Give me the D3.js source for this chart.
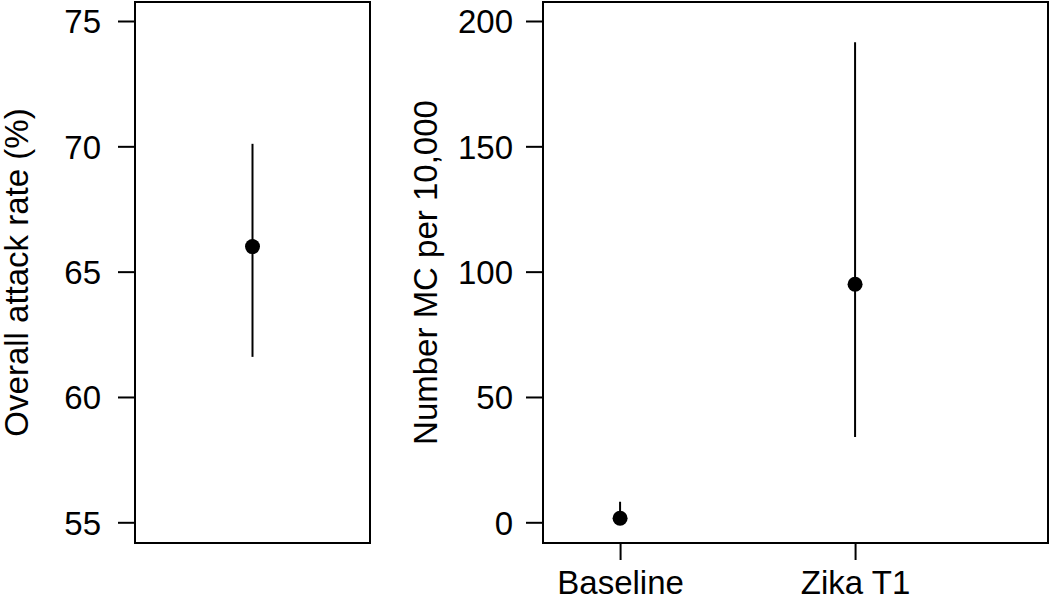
<!DOCTYPE html>
<html>
<head>
<meta charset="utf-8">
<script src="https://cdn.jsdelivr.net/npm/d3@7"></script>
<style>
  html, body { margin: 0; padding: 0; background: #fff; }
  svg { display: block; }
  text { font-family: "Liberation Sans", Arial, Helvetica, sans-serif; fill: #000; }
</style>
</head>
<body>
<svg id="chart" width="1050" height="598"></svg>
<script>
// ---- data ----
const attackTicks = [55, 60, 65, 70, 75];
const attackMean = [66.0];
const attackLow = [61.6];
const attackHigh = [70.1];

const mcCategories = ["Baseline", "Zika T1"];
const mcMean = [1.6, 95];
const mcLow = [0, 34];
const mcHigh = [8.2, 191.5];
const mcTicks = [0, 50, 100, 150, 200];

const leftTitle = "Overall attack rate (%)";
const rightTitle = "Number MC per 10,000";

// ---- layout ----
const svg = d3.select("#chart");
const boxTop = 2, boxBottom = 543;
const fontSize = 33;

function panel(cfg) {
  const g = svg.append("g");
  const y = d3.scaleLinear().domain(cfg.yDomain).range([522.3, 21]);
  const x = d3.scaleLinear().domain(cfg.xDomain).range([cfg.left, cfg.right]);

  // y axis
  const yAxis = d3.axisLeft(y).tickValues(cfg.ticks).tickSize(17).tickPadding(cfg.tickPad);
  const ya = g.append("g").attr("transform", `translate(${cfg.left},0)`).call(yAxis);
  ya.select(".domain").remove();
  ya.selectAll(".tick line").attr("stroke", "#000").attr("stroke-width", 2);
  ya.selectAll(".tick text").style("font-size", fontSize + "px")
    .attr("font-family", null).attr("dy", "0.36em");

  // x axis
  if (cfg.cats) {
    const xAxis = d3.axisBottom(x).tickValues(cfg.cats.map((d, i) => i))
      .tickFormat(i => cfg.cats[i]).tickSize(17).tickPadding(11);
    const xa = g.append("g").attr("transform", `translate(0,${boxBottom})`).call(xAxis);
    xa.select(".domain").remove();
    xa.selectAll(".tick line").attr("stroke", "#000").attr("stroke-width", 2);
    xa.selectAll(".tick text").style("font-size", fontSize + "px")
      .attr("font-family", null).attr("dy", "0.71em");
  }

  // box
  g.append("rect")
    .attr("x", cfg.left).attr("y", boxTop)
    .attr("width", cfg.right - cfg.left).attr("height", boxBottom - boxTop)
    .attr("fill", "none").attr("stroke", "#000").attr("stroke-width", 2);

  // error bars + points
  const idx = cfg.mean.map((d, i) => i);
  g.selectAll("line.err").data(idx).join("line")
    .attr("class", "err")
    .attr("x1", i => x(cfg.xPos[i])).attr("x2", i => x(cfg.xPos[i]))
    .attr("y1", i => y(cfg.low[i])).attr("y2", i => y(cfg.high[i]))
    .attr("stroke", "#000").attr("stroke-width", 2);
  g.selectAll("circle.pt").data(idx).join("circle")
    .attr("class", "pt")
    .attr("cx", i => x(cfg.xPos[i])).attr("cy", i => y(cfg.mean[i]))
    .attr("r", 7.5).attr("fill", "#000");

  // title
  g.append("text")
    .attr("transform", `translate(${cfg.titleX},${(boxTop + boxBottom) / 2}) rotate(-90)`)
    .attr("text-anchor", "middle")
    .style("font-size", fontSize + "px")
    .text(cfg.title);
}

panel({
  left: 135, right: 370,
  yDomain: [55, 75], ticks: attackTicks, tickPad: 17,
  xDomain: [0, 1], xPos: [0.5],
  mean: attackMean, low: attackLow, high: attackHigh,
  title: leftTitle, titleX: 28
});

panel({
  left: 543, right: 1048,
  yDomain: [0, 200], ticks: mcTicks, tickPad: 13,
  xDomain: [-0.328, 1.821], xPos: [0, 1], cats: mcCategories,
  mean: mcMean, low: mcLow, high: mcHigh,
  title: rightTitle, titleX: 437
});
</script>
</body>
</html>
